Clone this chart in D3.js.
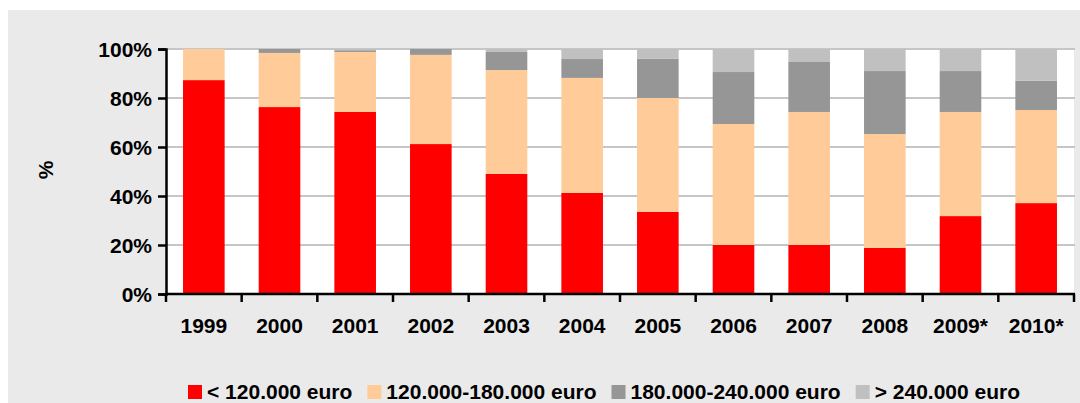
<!DOCTYPE html>
<meta charset="utf-8">
<style>
body { margin: 0; background: #fff; }
text { font-family: "Liberation Sans", Arial, sans-serif; font-weight: bold; fill: #000; }
</style>
<svg id="chart" width="1080" height="403"></svg>
<script src="https://cdn.jsdelivr.net/npm/d3@7"></script>
<script>

// data (percent shares per price class)
var years = ["1999", "2000", "2001", "2002", "2003", "2004", "2005", "2006", "2007", "2008", "2009*", "2010*"];
var below120 = [87.3, 76.3, 74.3, 61.2, 49.0, 41.3, 33.5, 20.0, 20.0, 18.8, 31.8, 37.1];
var from120to180 = [12.7, 22.1, 24.5, 36.4, 42.4, 46.9, 46.5, 49.4, 54.3, 46.5, 42.5, 38.0];
var from180to240 = [0.0, 1.6, 0.7, 2.4, 7.4, 7.7, 16.0, 21.2, 20.4, 25.7, 16.7, 11.9];
var above240 = [0.0, 0.0, 0.5, 0.0, 1.2, 4.1, 4.0, 9.4, 5.3, 9.0, 9.0, 13.0];
var seriesNames = ["< 120.000 euro", "120.000-180.000 euro", "180.000-240.000 euro", "> 240.000 euro"];
var colors = ["#ff0000", "#ffcc99", "#969696", "#c0c0c0"];
var yTicks = [0, 20, 40, 60, 80, 100];

var svg = d3.select("#chart");

// grey panel
svg.append("rect")
    .attr("x", 8).attr("y", 10)
    .attr("width", 1072).attr("height", 393)
    .attr("fill", "#eaeaea");

var margin = {left: 166, right: 1074, top: 49, bottom: 294};

var x = d3.scaleBand()
    .domain(years)
    .range([margin.left, margin.right])
    .paddingInner(0.45)
    .paddingOuter(0.225);

var y = d3.scaleLinear()
    .domain([0, 100])
    .range([margin.bottom, margin.top]);

// plot area
svg.append("rect")
    .attr("x", margin.left).attr("y", margin.top)
    .attr("width", margin.right - margin.left)
    .attr("height", margin.bottom - margin.top)
    .attr("fill", "#fff");

svg.append("g")
    .selectAll("line")
    .data(yTicks.slice(1))
    .enter().append("line")
      .attr("x1", margin.left).attr("x2", margin.right + 1)
      .attr("y1", function(d) { return y(d); })
      .attr("y2", function(d) { return y(d); })
      .attr("stroke", "#c6c6c6")
      .attr("stroke-width", 2);

var rows = years.map(function(yr, i) {
  return {year: yr, s0: below120[i], s1: from120to180[i], s2: from180to240[i], s3: above240[i]};
});

var stack = d3.stack().keys(["s0", "s1", "s2", "s3"]);
var layers = stack(rows);

svg.append("g")
    .selectAll("g")
    .data(layers)
    .enter().append("g")
      .attr("fill", function(d, i) { return colors[i]; })
    .selectAll("rect")
    .data(function(d) { return d; })
    .enter().append("rect")
      .attr("x", function(d) { return x(d.data.year); })
      .attr("width", x.bandwidth())
      .attr("y", function(d) { return y(d[1]); })
      .attr("height", function(d) { return y(d[0]) - y(d[1]); });

// y axis
var yAxis = svg.append("g")
    .attr("transform", "translate(" + margin.left + ",0)")
    .call(d3.axisLeft(y).tickValues(yTicks).tickSize(8).tickPadding(6)
      .tickFormat(function(d) { return d + "%"; }));
yAxis.select(".domain").attr("stroke", "#000").attr("stroke-width", 2.5);
yAxis.selectAll(".tick line").attr("stroke", "#000").attr("stroke-width", 2.5);
yAxis.selectAll("text").style("font-size", "21px").attr("dy", "0.36em");

// x axis, ticks on band borders
var xAxis = svg.append("g")
    .attr("transform", "translate(0," + margin.bottom + ")");
xAxis.append("line")
    .attr("x1", margin.left - 1).attr("x2", margin.right + 1)
    .attr("stroke", "#000").attr("stroke-width", 2.5);
xAxis.selectAll(".tk")
    .data(d3.range(years.length + 1))
    .enter().append("line")
      .attr("x1", function(i) { return margin.left + i * (margin.right - margin.left) / years.length; })
      .attr("x2", function(i) { return margin.left + i * (margin.right - margin.left) / years.length; })
      .attr("y1", 0).attr("y2", 8)
      .attr("stroke", "#000").attr("stroke-width", 2.5);
xAxis.selectAll("text")
    .data(years)
    .enter().append("text")
      .attr("x", function(d) { return x(d) + x.bandwidth() / 2; })
      .attr("y", 39)
      .attr("text-anchor", "middle")
      .style("font-size", "21px")
      .text(function(d) { return d; });

// axis title
svg.append("text")
    .attr("transform", "translate(53,170) rotate(-90)")
    .attr("text-anchor", "middle")
    .style("font-size", "21px")
    .text("%");

// legend
var legend = svg.append("g");
var lx = 188;
seriesNames.forEach(function(name, i) {
  legend.append("rect")
      .attr("x", lx).attr("y", 385)
      .attr("width", 14).attr("height", 14)
      .attr("fill", colors[i]);
  var t = legend.append("text")
      .attr("x", lx + 19).attr("y", 399)
      .style("font-size", "21px")
      .text(name);
  lx += 19 + t.node().getComputedTextLength() + 15;
});

</script>
